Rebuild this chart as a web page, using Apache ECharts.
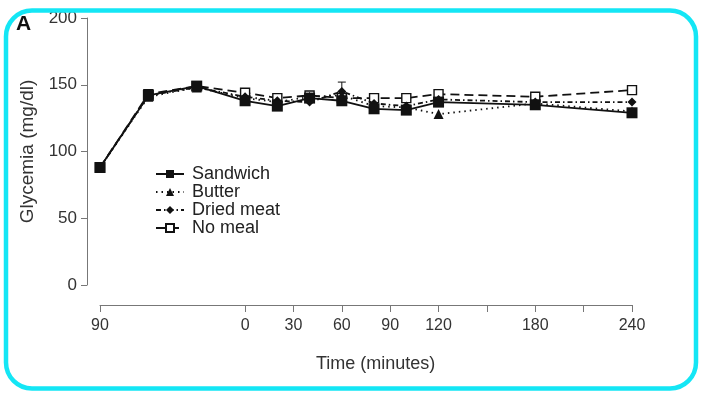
<!DOCTYPE html>
<html>
<head>
<meta charset="utf-8">
<script src="https://cdn.jsdelivr.net/npm/echarts@6/dist/echarts.min.js"></script>
<style>
html,body{margin:0;padding:0;background:#fff;}
#main{width:702px;height:395px;}
</style>
</head>
<body>
<div id="main"></div>
<script>
// ---- data ----
const times = [-90, -60, -30, 0, 20, 40, 60, 80, 100, 120, 180, 240];
const sandwich = [88, 142, 149, 138, 134, 140, 138, 132, 131, 137, 135, 129];
const butter = [88, 141, 148, 140, 137, 141, 142, 134, 133, 128, 136, 130];
const driedMeat = [88, 142, 148, 141, 138, 137, 145, 136, 134, 139, 137, 137];
const noMeal = [88, 143, 149, 144, 140, 142, 140, 140, 140, 143, 141, 146];
const errorBars = [[60, 140, 152]]; // [time, low, high]
const xTickValues = [-90, 0, 30, 60, 90, 120, 150, 180, 210, 240];
const xLabelValues = [-90, 0, 30, 60, 90, 120, 180, 240];
const yTicks = [0, 50, 100, 150, 200];

const pair = arr => times.map((t, i) => [t, arr[i]]);
const FONT = 'Liberation Sans, Arial, sans-serif';
const chart = echarts.init(document.getElementById('main'));

const base = (name, data, symbol, size, lineType, fill, z) => ({
  name, type: 'line', data: pair(data), symbol, symbolSize: size,
  lineStyle: { color: '#111', width: 1.8, type: lineType },
  itemStyle: { color: fill, borderColor: '#111', borderWidth: fill === '#fff' ? 1.4 : 0 },
  emphasis: { disabled: true }, z
});

chart.setOption({
  animation: false,
  backgroundColor: '#fff',
  grid: { left: 100, right: 70, top: 18, bottom: 110 },
  xAxis: {
    type: 'value', min: -90, max: 240, interval: 30,
    position: 'bottom', offset: 20,
    splitLine: { show: false },
    axisLine: { show: true, onZero: false, lineStyle: { color: '#777', width: 1 } },
    axisTick: { show: true, inside: false, length: 7, lineStyle: { color: '#777' }, customValues: xTickValues },
    axisLabel: { color: '#333', fontSize: 16, fontFamily: FONT, margin: 13,
      customValues: xLabelValues, formatter: v => String(Math.abs(v)) }
  },
  yAxis: {
    type: 'value', min: yTicks[0], max: yTicks[yTicks.length - 1], interval: 50,
    position: 'left', offset: 13,
    name: 'Glycemia (mg/dl)', nameLocation: 'middle', nameRotate: 90, nameGap: 49,
    nameTextStyle: { color: '#333', fontSize: 19, fontFamily: FONT },
    splitLine: { show: false },
    axisLine: { show: true, onZero: false, lineStyle: { color: '#777', width: 1 } },
    axisTick: { show: true, inside: false, length: 6, lineStyle: { color: '#777' } },
    axisLabel: { color: '#333', fontSize: 17, fontFamily: FONT, margin: 10 }
  },
  legend: {
    orient: 'vertical', left: 150, top: 160, itemWidth: 28, itemHeight: 10, itemGap: 0,
    textStyle: { color: '#222', fontSize: 18, fontFamily: FONT, lineHeight: 16, padding: [0, 0, 0, 3] },
    data: ['Sandwich', 'Butter', 'Dried meat', 'No meal']
  },
  series: [
    base('No meal', noMeal, 'rect', 9, [9, 5], '#fff', 2),
    base('Dried meat', driedMeat, 'diamond', 9, [5, 3, 1.5, 3], '#111', 3),
    base('Butter', butter, 'triangle', 10, [1.5, 4], '#111', 4),
    base('Sandwich', sandwich, 'rect', 11, 'solid', '#111', 5),
    {
      type: 'custom', silent: true, z: 1,
      data: errorBars,
      renderItem: (params, api) => {
        const x = api.coord([api.value(0), api.value(1)]);
        const top = api.coord([api.value(0), api.value(2)]);
        return { type: 'group', children: [
          { type: 'line', shape: { x1: x[0], y1: x[1], x2: top[0], y2: top[1] }, style: { stroke: '#111', lineWidth: 1 } },
          { type: 'line', shape: { x1: top[0] - 4, y1: top[1], x2: top[0] + 4, y2: top[1] }, style: { stroke: '#111', lineWidth: 1 } }
        ]};
      }
    }
  ],
  graphic: [
    { type: 'rect', shape: { x: 6, y: 10.5, width: 690, height: 378, r: 26 },
      style: { fill: 'none', stroke: '#14e6f5', lineWidth: 4.5 }, silent: true, z: 10 },
    { type: 'text', left: 16, top: 14, style: { text: 'A', font: 'bold 21px ' + FONT, fill: '#111' } },
    { type: 'text', left: 316, top: 355, style: { text: 'Time (minutes)', font: '18px ' + FONT, fill: '#333' } }
  ]
});
</script>
</body>
</html>
